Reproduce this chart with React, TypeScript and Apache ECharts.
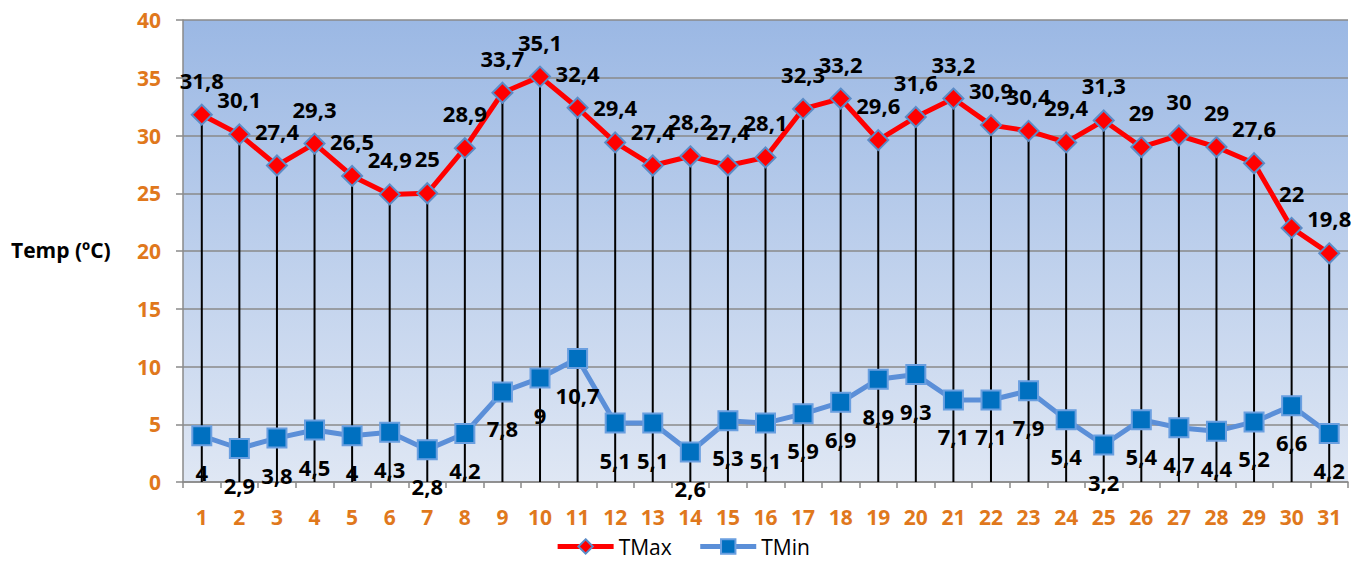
import React, { useEffect, useRef } from "react";
import * as echarts from "echarts";

const days = Array.from({ length: 31 }, (_, i) => String(i + 1));
const tMax = [31.8, 30.1, 27.4, 29.3, 26.5, 24.9, 25, 28.9, 33.7, 35.1, 32.4, 29.4, 27.4, 28.2, 27.4, 28.1, 32.3, 33.2, 29.6, 31.6, 33.2, 30.9, 30.4, 29.4, 31.3, 29, 30, 29, 27.6, 22, 19.8];
const tMin = [4, 2.9, 3.8, 4.5, 4, 4.3, 2.8, 4.2, 7.8, 9, 10.7, 5.1, 5.1, 2.6, 5.3, 5.1, 5.9, 6.9, 8.9, 9.3, 7.1, 7.1, 7.9, 5.4, 3.2, 5.4, 4.7, 4.4, 5.2, 6.6, 4.2];

const fmt = (v: number) => String(v).replace(".", ",");
const FONT = "'Open Sans', 'Noto Sans', sans-serif";
const ORANGE = "#E0781C";

export default function App() {
  const ref = useRef<HTMLDivElement>(null);
  useEffect(() => {
    if (!ref.current) return;
    const chart = echarts.init(ref.current, null, { renderer: "svg" });
    chart.setOption({
      animation: false,
      backgroundColor: "#ffffff",
      textStyle: { fontFamily: FONT },
      grid: {
        left: 183,
        right: 17,
        top: 20,
        bottom: 80,
        show: true,
        borderWidth: 0,
        backgroundColor: new echarts.graphic.LinearGradient(0, 0, 0, 1, [
          { offset: 0, color: "#9BB8E4" },
          { offset: 1, color: "#DFE7F4" },
        ]),
      },
      graphic: [
        {
          type: "text",
          left: 11,
          top: 239,
          style: { text: "Temp (ºC)", font: `bold 21px ${FONT}`, fill: "#000" },
        },
      ],
      legend: {
        bottom: 0,
        left: "center",
        data: ["TMax", "TMin"],
        itemWidth: 56,
        itemHeight: 18,
        itemGap: 26,
        lineStyle: { width: 5 },
        textStyle: { fontSize: 21, color: "#000", fontFamily: FONT },
      },
      xAxis: {
        type: "category",
        data: days,
        boundaryGap: true,
        axisLine: { lineStyle: { color: "#8A8A8A", width: 1.5 } },
        axisTick: { show: true, length: 6, lineStyle: { color: "#8A8A8A", width: 1.5 } },
        axisLabel: { color: ORANGE, fontSize: 21, fontWeight: "bold", margin: 24, fontFamily: FONT },
      },
      yAxis: {
        type: "value",
        min: 0,
        max: 40,
        interval: 5,
        axisLine: { show: true, lineStyle: { color: "#8A8A8A", width: 1.5 } },
        axisTick: { show: true, length: 7, lineStyle: { color: "#8A8A8A", width: 1.5 } },
        axisLabel: { color: ORANGE, fontSize: 21, fontWeight: "bold", margin: 22, fontFamily: FONT },
        splitLine: { show: true, lineStyle: { color: "#8A8A8A", width: 1.5 } },
      },
      series: [
        {
          name: "drop",
          type: "bar",
          data: tMax,
          barWidth: 2,
          itemStyle: { color: "#000" },
          silent: true,
          z: 1,
        },
        {
          name: "TMax",
          type: "line",
          data: tMax,
          symbol: "diamond",
          symbolSize: 20,
          lineStyle: { color: "#FF0000", width: 5 },
          itemStyle: { color: "#FF0000", borderColor: "#5B8BC6", borderWidth: 2 },
          label: {
            show: true,
            position: "top",
            distance: 13,
            formatter: (p: any) => fmt(p.value),
            fontSize: 22,
            fontWeight: "bold",
            color: "#000",
            fontFamily: FONT,
          },
          z: 3,
        },
        {
          name: "TMin",
          type: "line",
          data: tMin,
          symbol: "rect",
          symbolSize: 19,
          lineStyle: { color: "#5B8FD8", width: 5 },
          itemStyle: { color: "#0070C0", borderColor: "#6A9FE0", borderWidth: 2 },
          label: {
            show: true,
            position: "bottom",
            distance: 15,
            formatter: (p: any) => fmt(p.value),
            fontSize: 22,
            fontWeight: "bold",
            color: "#000",
            fontFamily: FONT,
          },
          z: 3,
        },
      ],
    });
    return () => chart.dispose();
  }, []);
  return (
    <div
      ref={ref}
      style={{ position: "fixed", left: 0, top: 0, width: 1365, height: 562 }}
    />
  );
}
